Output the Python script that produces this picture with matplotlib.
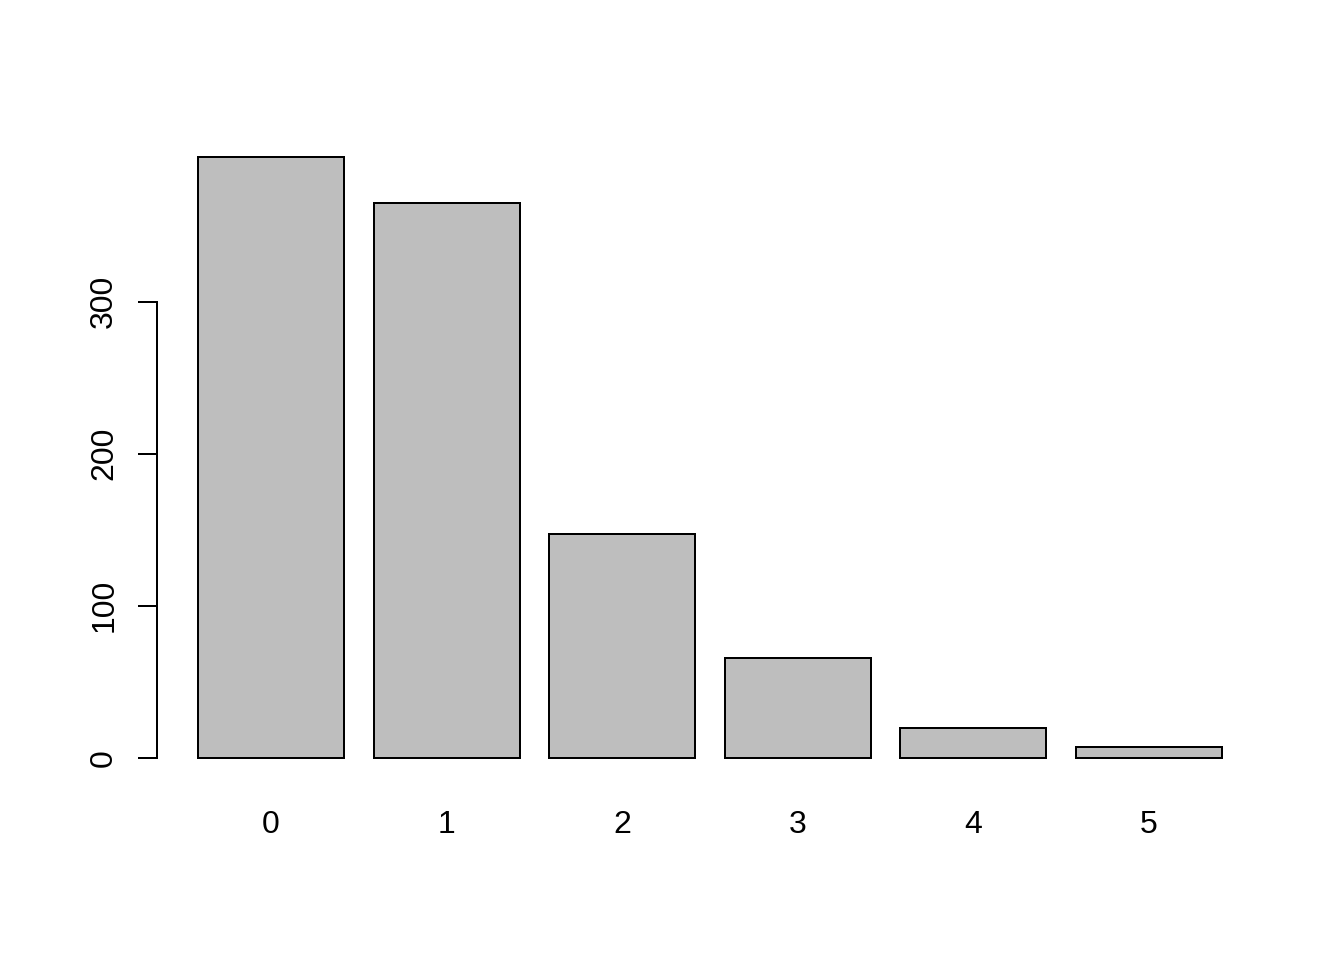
import matplotlib
matplotlib.use("Agg")
from matplotlib import pyplot

categories = ['0', '1', '2', '3', '4', '5']
counts = [395, 365, 147, 66, 20, 7]
y_ticks = [0, 100, 200, 300]

pyplot.rcParams['font.family'] = ['Liberation Sans', 'DejaVu Sans']

fig = pyplot.figure(figsize=(7, 5), dpi=192)
ax = fig.add_axes([157 / 1344, (960 - 782) / 960, (1263 - 157) / 1344, (782 - 133) / 960])

# R barplot layout: width 1, space 0.2
pos = [0.2 + 1.2 * i + 0.5 for i in range(len(counts))]
ax.bar(pos, counts, width=1.0, color='#bebebe', edgecolor='black', linewidth=0.75)

ax.set_xlim(-0.08, 7.48)
ax.set_ylim(-15.8, 410.8)

for side in ['top', 'right', 'bottom']:
    ax.spines[side].set_visible(False)
ax.spines['left'].set_bounds(0, 300)
ax.spines['left'].set_linewidth(0.75)

ax.set_yticks(y_ticks)
ax.set_yticklabels([str(t) for t in y_ticks], rotation=90, va='center')
ax.tick_params(axis='y', length=7.2, width=0.75, pad=7, labelsize=12)

ax.set_xticks(pos)
ax.set_xticklabels(categories)
ax.tick_params(axis='x', length=0, pad=10.5, labelsize=12)

fig.savefig('out.png', dpi=192)
